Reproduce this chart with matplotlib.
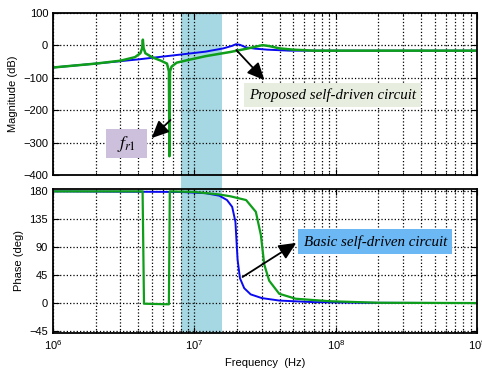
import matplotlib.pyplot as plt
import matplotlib.transforms as mtransforms
from matplotlib.patches import Rectangle
from matplotlib.ticker import LogLocator, NullFormatter

# magnitude (dB)
f_mag_blue = [1e6, 2e6, 4e6, 8e6, 1.2e7, 1.6e7, 1.85e7, 1.97e7, 2.1e7, 2.32e7, 2.7e7,
              3.3e7, 4.7e7, 7e7, 1e9]
mag_blue = [-68, -56, -43, -28, -19, -9, -1, 4, 2, -6, -10, -13, -16, -16, -16]

f_mag_green = [1e6, 2e6, 3e6, 3.8e6, 4.15e6, 4.27e6, 4.32e6, 4.37e6, 4.5e6, 5e6, 5.8e6,
               6.4e6, 6.6e6, 6.66e6, 6.72e6, 6.9e6, 7.5e6, 9e6, 1.2e7, 1.8e7, 2.4e7,
               3.03e7, 3.4e7, 4e7, 5e7, 7e7, 1e9]
mag_green = [-68, -56, -47, -36, -24, -8, 18, -8, -24, -36, -47, -56, -80, -342, -80,
             -65, -53, -45, -33, -20, -9, 1, -2, -9, -13, -16, -16]

# phase (deg)
f_ph_blue = [1e6, 8e6, 1.2e7, 1.5e7, 1.7e7, 1.85e7, 1.95e7, 2.02e7, 2.1e7, 2.25e7,
             2.5e7, 3e7, 4e7, 7e7, 1.5e8, 1e9]
ph_blue = [180, 179, 177, 173, 166, 155, 131, 70, 40, 24, 14, 8, 4, 1.5, 0.5, 0]

f_ph_green = [1e6, 4.3e6, 4.4e6, 6.6e6, 6.7e6, 1e7, 1.5e7, 1.8e7, 2.32e7, 2.72e7,
              2.95e7, 3.12e7, 3.38e7, 3.98e7, 5.2e7, 9e7, 2e8, 1e9]
ph_green = [180, 180, -1, -2, 180, 179, 175, 172, 166, 147, 110, 62, 36, 15, 7, 3, 0.5, 0]

band = [8.0e6, 1.57e7]

plt.rcParams['font.family'] = ['Liberation Sans', 'DejaVu Sans']
plt.rcParams['font.size'] = 8
plt.rcParams['mathtext.fontset'] = 'stix'

fig = plt.figure(figsize=(4.82, 3.74), dpi=100)
ax1 = fig.add_axes([0.110, 0.532, 0.880, 0.433])
ax2 = fig.add_axes([0.110, 0.110, 0.880, 0.385], sharex=ax1)

blue = '#0a0af0'
green = '#0e9e1a'
ax1.plot(f_mag_blue, mag_blue, color=blue, lw=1.4)
ax1.plot(f_mag_green, mag_green, color=green, lw=1.8)
ax2.plot(f_ph_blue, ph_blue, color=blue, lw=1.4)
ax2.plot(f_ph_green, ph_green, color=green, lw=1.6)

ax1.set_xscale('log')
ax1.set_xlim(1e6, 1e9)
ax1.set_ylim(-400, 100)
ax1.set_yticks([100, 0, -100, -200, -300, -400])
ax2.set_ylim(-48, 184)
ax2.set_yticks([180, 135, 90, 45, 0, -45])
ax2.xaxis.set_major_locator(LogLocator(base=10, numticks=10))
ax2.xaxis.set_minor_locator(LogLocator(base=10, subs=range(2, 10), numticks=100))
ax2.xaxis.set_minor_formatter(NullFormatter())
plt.setp(ax1.get_xticklabels(), visible=False)

for ax in (ax1, ax2):
    ax.set_facecolor('none')
    ax.grid(True, which='major', color='black', linestyle=':', linewidth=0.9)
    ax.grid(True, which='minor', axis='x', color='black', linestyle=':', linewidth=0.9)
    ax.tick_params(which='both', direction='in', top=True, right=True)
    ax.tick_params(which='major', length=4)
    ax.tick_params(which='minor', length=2)
    for s in ax.spines.values():
        s.set_linewidth(1.3)

ax1.set_ylabel('Magnitude (dB)', labelpad=4)
ax2.set_ylabel('Phase (deg)', labelpad=4)
ax2.set_xlabel('Frequency  (Hz)', labelpad=5)

# shaded band spanning both axes and the gap
trans = mtransforms.blended_transform_factory(ax1.transData, fig.transFigure)
fig.patches.append(Rectangle((band[0], 0.110), band[1] - band[0], 0.965 - 0.110,
                             transform=trans, facecolor='#a6d8e3', edgecolor='none',
                             zorder=-1))

# annotations
tfont = dict(family=['Liberation Serif', 'DejaVu Serif'], style='italic')
arrow = dict(arrowstyle='-|>,head_length=1.3,head_width=0.6', color='black', lw=1.3,
             shrinkA=0, shrinkB=0)

ax1.text(9.45e7, -153, 'Proposed self-driven circuit', ha='center', va='center',
         fontsize=10.8, bbox=dict(boxstyle='square,pad=0.35', fc='#e8eedf', ec='none'),
         **tfont)
ax1.annotate('', xy=(3.13e7, -107), xytext=(1.98e7, -14), arrowprops=arrow)

ax1.text(3.31e6, -303, r'  $f_{r1}$  ', ha='center', va='center', fontsize=13,
         family=['Liberation Serif', 'DejaVu Serif'],
         bbox=dict(boxstyle='square,pad=0.25', fc='#ccc0dc', ec='none'))
ax1.annotate('', xy=(4.98e6, -286), xytext=(6.78e6, -230), arrowprops=arrow)

ax2.text(1.9e8, 99, 'Basic self-driven circuit', ha='center', va='center',
         fontsize=10.8, bbox=dict(boxstyle='square,pad=0.35', fc='#6cb8f5', ec='none'),
         **tfont)
ax2.annotate('', xy=(5.25e7, 97), xytext=(2.19e7, 42), arrowprops=arrow)

fig.savefig('out.png', dpi=100)
